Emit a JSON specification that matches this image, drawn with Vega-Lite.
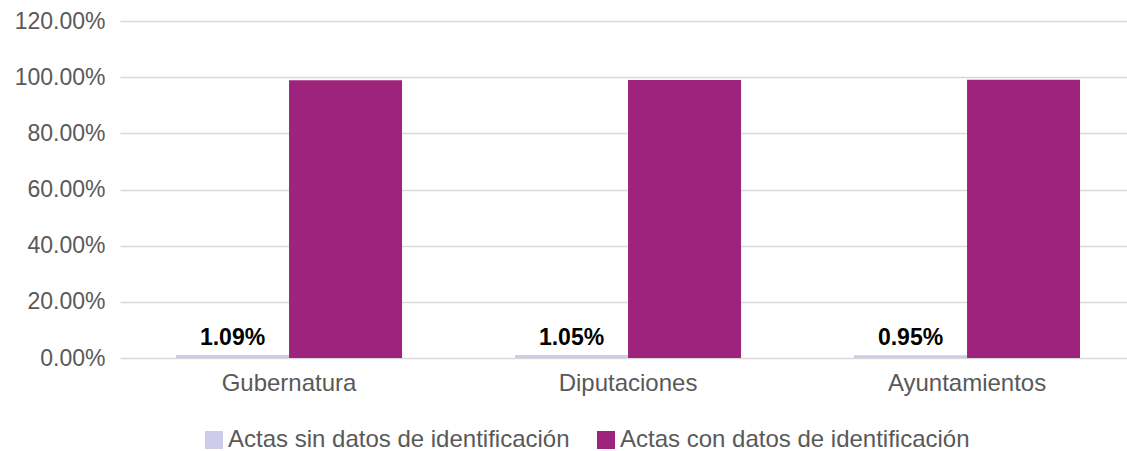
{
  "$schema": "https://vega.github.io/schema/vega-lite/v6.json",
  "autosize": {"type": "none"},
  "padding": {"left": 120, "top": 21, "right": 0, "bottom": 93},
  "width": 1007,
  "height": 337,
  "background": "white",
  "config": {
    "font": "Liberation Sans",
    "view": {"stroke": null},
    "axis": {"labelFont": "Liberation Sans", "labelColor": "#595959"}
  },
  "data": {
    "values": [
      {"cargo": "Gubernatura", "serie": "Actas sin datos de identificación", "valor": 0.0109},
      {"cargo": "Gubernatura", "serie": "Actas con datos de identificación", "valor": 0.9891},
      {"cargo": "Diputaciones", "serie": "Actas sin datos de identificación", "valor": 0.0105},
      {"cargo": "Diputaciones", "serie": "Actas con datos de identificación", "valor": 0.9895},
      {"cargo": "Ayuntamientos", "serie": "Actas sin datos de identificación", "valor": 0.0095},
      {"cargo": "Ayuntamientos", "serie": "Actas con datos de identificación", "valor": 0.9905}
    ]
  },
  "encoding": {
    "x": {
      "field": "cargo",
      "type": "nominal",
      "sort": ["Gubernatura", "Diputaciones", "Ayuntamientos"],
      "scale": {"paddingInner": 0.3333, "paddingOuter": 0.1519, "align": 0.544},
      "axis": {
        "title": null,
        "labelAngle": 0,
        "labelFontSize": 24,
        "labelPadding": 13,
        "ticks": false,
        "domain": false,
        "grid": false
      }
    },
    "xOffset": {
      "field": "serie",
      "type": "nominal",
      "scale": {"domain": ["Actas sin datos de identificación", "Actas con datos de identificación"], "paddingInner": 0, "paddingOuter": 0}
    },
    "y": {
      "field": "valor",
      "type": "quantitative",
      "scale": {"domain": [0, 1.2], "nice": false},
      "axis": {
        "title": null,
        "values": [0, 0.2, 0.4, 0.6, 0.8, 1.0, 1.2],
        "format": ".2%",
        "labelFontSize": 23,
        "labelPadding": 15,
        "ticks": false,
        "domain": false,
        "gridColor": "#D9D9D9",
        "gridWidth": 1.5
      }
    }
  },
  "layer": [
    {
      "mark": {"type": "bar"},
      "encoding": {
        "color": {
          "field": "serie",
          "type": "nominal",
          "scale": {
            "domain": ["Actas sin datos de identificación", "Actas con datos de identificación"],
            "range": ["#CCCCE8", "#9E237D"]
          },
          "legend": {
            "title": null,
            "orient": "none",
            "direction": "horizontal",
            "legendX": 82,
            "legendY": 407,
            "symbolType": "square",
            "symbolSize": 324,
            "symbolStrokeWidth": 0,
            "symbolOpacity": 1,
            "labelFontSize": 24,
            "labelColor": "#595959",
            "labelFont": "Liberation Sans",
            "labelLimit": 0,
            "labelOffset": 2,
            "columnPadding": 24
          }
        }
      }
    },
    {
      "transform": [{"filter": "datum.serie === 'Actas sin datos de identificación'"}],
      "mark": {"type": "text", "baseline": "bottom", "dy": -5, "fontSize": 23, "fontWeight": "bold", "color": "black", "font": "Liberation Sans"},
      "encoding": {
        "text": {"field": "valor", "type": "quantitative", "format": ".2%"}
      }
    }
  ]
}
